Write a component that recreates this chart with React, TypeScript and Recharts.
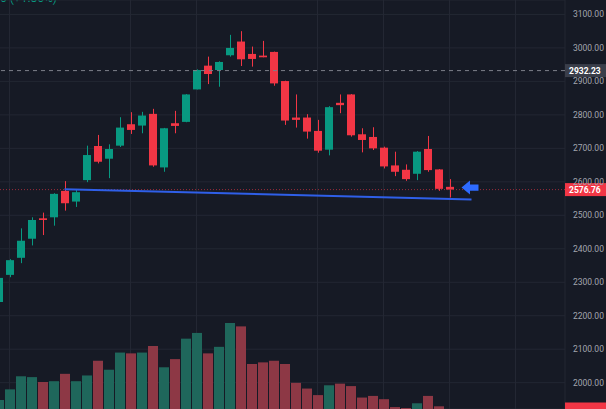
import { ComposedChart, Bar, Cell, XAxis, YAxis, CartesianGrid, ReferenceLine, ReferenceDot } from 'recharts'

const opens = [2241, 2322, 2373, 2430, 2491, 2494, 2573, 2541, 2605, 2707, 2669, 2708, 2772, 2768, 2803, 2643, 2775, 2779, 2876, 2947, 2934, 2978, 3019, 2982, 2977, 2988, 2901, 2792, 2792, 2752, 2696, 2836, 2861, 2742, 2734, 2702, 2649, 2636, 2624, 2698, 2637, 2585]
const highs = [2316, 2369, 2461, 2494, 2508, 2566, 2602, 2576, 2708, 2740, 2712, 2793, 2808, 2809, 2818, 2761, 2812, 2862, 2936, 2974, 2960, 3039, 3050, 3004, 3021, 2989, 2902, 2861, 2802, 2785, 2826, 2861, 2862, 2760, 2763, 2705, 2690, 2652, 2692, 2737, 2638, 2608]
const lows = [2238, 2315, 2357, 2410, 2441, 2469, 2514, 2525, 2599, 2655, 2611, 2704, 2743, 2745, 2645, 2630, 2745, 2778, 2876, 2892, 2884, 2974, 2946, 2944, 2972, 2887, 2770, 2762, 2729, 2687, 2679, 2805, 2735, 2688, 2695, 2640, 2617, 2603, 2605, 2630, 2573, 2553]
const closes = [2313, 2366, 2424, 2486, 2486, 2564, 2536, 2569, 2680, 2660, 2698, 2762, 2755, 2798, 2649, 2760, 2767, 2861, 2934, 2922, 2958, 3000, 2966, 2967, 2972, 2894, 2783, 2785, 2750, 2693, 2823, 2829, 2739, 2725, 2700, 2646, 2630, 2608, 2690, 2635, 2579, 2576.76]
const volumes = [11, 24, 40, 39, 33, 34, 43, 34, 41, 59, 48, 69, 68, 69, 77, 51, 61, 86, 93, 68, 76, 105, 101, 55, 57, 59, 55, 32, 25, 17, 29, 31, 28, 14, 16, 12, 2.4, 1.2, 7, 16, 3.3, 0]

const priceTicks = [2000, 2100, 2200, 2300, 2400, 2500, 2600, 2700, 2800, 2900, 3000, 3100]
const gridSlots = [1, 12, 18, 29, 35, 41, 47]
const SLOTS = 52
const lastPrice = 2576.76
const markedPrice = 2932.23
const trendStart = { i: 6, price: 2577.7 }
const trendEnd = { i: 43, price: 2547.2 }

const BG = '#161a25'
const GRID = '#232733'
const UP = '#089981'
const DOWN = '#f23645'
const UP_VOL = '#1f675b'
const DOWN_VOL = '#8d3845'
const FONT = 'Roboto, "Liberation Sans", sans-serif'

const rows = Array.from({ length: SLOTS }, (_, i) => ({
  i,
  o: opens[i] ?? null,
  h: highs[i] ?? null,
  l: lows[i] ?? null,
  c: closes[i] ?? null,
  vol: volumes[i] ?? null,
}))

const Candle = (props: any) => {
  const { x, y, width, height, payload } = props
  if (payload == null || payload.o == null) return null
  const top = Math.min(y, y + height)
  const full = Math.abs(height)
  const px = (v: number) => top + ((payload.h - v) / (payload.h - payload.l)) * full
  const up = payload.c >= payload.o
  const color = up ? UP : DOWN
  const cx = Math.round(x + width / 2) + 0.5
  const bt = px(Math.max(payload.o, payload.c))
  const bb = px(Math.min(payload.o, payload.c))
  return (
    <g>
      <line x1={cx} x2={cx} y1={top} y2={top + full} stroke={color} strokeWidth={1} />
      <rect x={x} y={bt} width={width} height={Math.max(1.5, bb - bt)} fill={color} />
    </g>
  )
}

// tag box on the right price scale, drawn from the reference line's viewBox
const PriceTag = (props: any) => {
  const { viewBox, text, bg } = props
  if (!viewBox) return null
  const x = viewBox.x + viewBox.width
  const y = viewBox.y
  return (
    <g>
      <rect x={x} y={y - 6.5} width={41} height={13} fill={bg} />
      {text ? (
        <text x={x + 4} y={y + 3.2} fill="#ffffff" fontSize={8.5} fontWeight="bold" fontFamily={FONT}>
          {text}
        </text>
      ) : null}
    </g>
  )
}

const Arrow = (props: any) => {
  const { cx, cy } = props
  if (cx == null || cy == null) return null
  const tx = cx + 1
  const ty = cy - 2
  return (
    <path
      d={`M${tx},${ty} L${tx + 8.5},${ty - 7} V${ty - 3.2} H${tx + 17} V${ty + 3.2} H${tx + 8.5} V${ty + 7} Z`}
      fill="#2e6bff"
    />
  )
}

export default function App() {
  return (
    <div style={{ position: 'fixed', left: 0, top: 0, width: 606, height: 409, overflow: 'hidden', background: BG }}>
      <div style={{ position: 'absolute', left: 0, top: -8, color: UP, fontSize: 12, lineHeight: '12px', fontFamily: FONT, whiteSpace: 'nowrap' }}>
        6 (+1.86%)
      </div>
      <div style={{ position: 'absolute', left: -7, top: 0 }}>
        <ComposedChart width={613} height={409} data={rows} margin={{ top: 0, right: 0, bottom: 0, left: 0 }}>
          <CartesianGrid xAxisId="c" yAxisId="price" stroke={GRID} />
          <XAxis xAxisId="c" dataKey="i" type="category" hide ticks={gridSlots} interval={0} />
          <XAxis xAxisId="v" dataKey="i" type="category" hide />
          <YAxis
            yAxisId="price"
            orientation="right"
            width={41}
            domain={[1921.4, 3143.1]}
            allowDataOverflow
            ticks={priceTicks}
            interval={0}
            tickFormatter={(v: number) => v.toFixed(2)}
            axisLine={false}
            tickLine={false}
            tick={{ fill: '#a3a6af', fontSize: 8.5, fontFamily: FONT }}
          />
          <YAxis yAxisId="vol" hide domain={[0, 500]} allowDataOverflow />

          <Bar xAxisId="v" yAxisId="vol" dataKey="vol" barSize={10} isAnimationActive={false}>
            {rows.map((r) => (
              <Cell key={r.i} fill={r.c != null && r.o != null && r.c >= r.o ? UP_VOL : DOWN_VOL} />
            ))}
          </Bar>

          <ReferenceLine xAxisId="c" yAxisId="price" y={markedPrice} stroke="#7d808a" strokeDasharray="4 4" label={<PriceTag text={markedPrice.toFixed(2)} bg="#3a3e4a" />} />
          <ReferenceLine xAxisId="c" yAxisId="price" y={lastPrice} stroke="#b8303f" strokeOpacity={0.8} strokeDasharray="1 2" />

          <Bar
            xAxisId="c"
            yAxisId="price"
            dataKey={(d: any) => (d.h == null ? null : [d.l, d.h])}
            barSize={8}
            shape={Candle}
            isAnimationActive={false}
          />

          <ReferenceLine
            xAxisId="c"
            yAxisId="price"
            segment={[
              { x: trendStart.i, y: trendStart.price },
              { x: trendEnd.i, y: trendEnd.price },
            ]}
            stroke="#2f5fe8"
            strokeWidth={2}
          />
          <ReferenceDot xAxisId="c" yAxisId="price" x={42} y={lastPrice} shape={Arrow} />
          <ReferenceLine xAxisId="c" yAxisId="price" y={lastPrice} stroke="none" label={<PriceTag text={lastPrice.toFixed(2)} bg={DOWN} />} />
          <ReferenceLine xAxisId="v" yAxisId="vol" y={volumes[volumes.length - 1]} stroke="none" label={<PriceTag bg={DOWN} />} />
        </ComposedChart>
      </div>
    </div>
  )
}
